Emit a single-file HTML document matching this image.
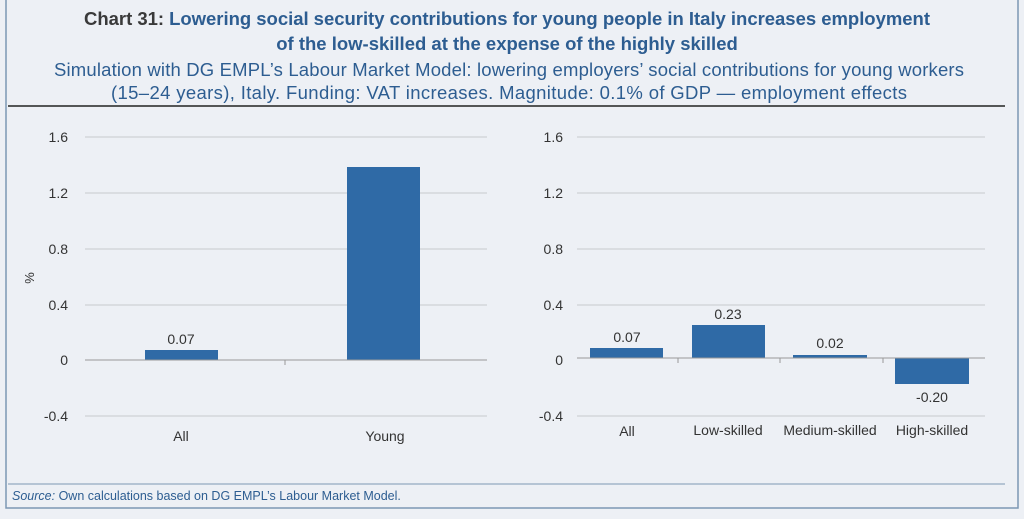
<!DOCTYPE html>
<html><head><style>
body{margin:0;width:1024px;height:514px;background:#edf0f5;overflow:hidden;font-family:"Liberation Sans",sans-serif}
</style></head><body>
<svg width="1024" height="514" viewBox="0 0 1024 514" xmlns="http://www.w3.org/2000/svg" font-family="Liberation Sans, DejaVu Sans, sans-serif">
<rect x="0" y="0" width="1024" height="514" fill="#edf0f5"/>
<rect x="6" y="-2" width="1012" height="510" fill="none" stroke="#7d97b4" stroke-width="1.5"/>
<text x="507" y="25" text-anchor="middle" font-size="18.5" font-weight="bold" fill="#2d5d91" textLength="846"><tspan fill="#3a3a3a">Chart 31</tspan><tspan fill="#3a3a3a">: </tspan>Lowering social security contributions for young people in Italy increases employment</text>
<text x="507" y="50" text-anchor="middle" font-size="18.5" font-weight="bold" fill="#2d5d91">of the low-skilled at the expense of the highly skilled</text>
<text x="509" y="76" text-anchor="middle" font-size="18.5" fill="#2d5d91" textLength="910">Simulation with DG EMPL’s Labour Market Model: lowering employers’ social contributions for young workers</text>
<text x="509" y="99" text-anchor="middle" font-size="18.5" fill="#2d5d91" textLength="796">(15–24 years), Italy. Funding: VAT increases. Magnitude: 0.1% of GDP — employment effects</text>
<line x1="8" y1="106" x2="1005" y2="106" stroke="#222" stroke-width="1.5"/>
<g stroke="#c8cacd" stroke-width="1">
<line x1="85" y1="137" x2="487" y2="137"/><line x1="85" y1="193" x2="487" y2="193"/><line x1="85" y1="249" x2="487" y2="249"/><line x1="85" y1="305" x2="487" y2="305"/><line x1="85" y1="416" x2="487" y2="416"/>
<line x1="577" y1="137" x2="985" y2="137"/><line x1="577" y1="193" x2="985" y2="193"/><line x1="577" y1="249" x2="985" y2="249"/><line x1="577" y1="305" x2="985" y2="305"/><line x1="577" y1="416" x2="985" y2="416"/>
</g>
<g font-size="14" fill="#333" text-anchor="end">
<text x="68" y="142">1.6</text><text x="68" y="198">1.2</text><text x="68" y="254">0.8</text><text x="68" y="310">0.4</text><text x="68" y="365">0</text><text x="68" y="421">-0.4</text>
<text x="563" y="142">1.6</text><text x="563" y="198">1.2</text><text x="563" y="254">0.8</text><text x="563" y="310">0.4</text><text x="563" y="365">0</text><text x="563" y="421">-0.4</text>
</g>
<text x="34" y="278" font-size="13" fill="#333" transform="rotate(-90 34 278)" text-anchor="middle">%</text>
<g fill="#2f6aa6">
<rect x="145" y="350" width="73" height="10"/><rect x="347" y="167" width="73" height="193"/>
<rect x="590" y="348" width="73" height="10"/><rect x="692" y="325" width="73" height="33"/><rect x="793" y="355" width="74" height="3"/><rect x="895" y="358" width="74" height="26"/>
</g>
<g stroke="#999" stroke-width="1">
<line x1="85" y1="360" x2="487" y2="360"/><line x1="285" y1="360" x2="285" y2="365"/>
<line x1="577" y1="358" x2="985" y2="358"/><line x1="678" y1="358" x2="678" y2="363"/><line x1="780" y1="358" x2="780" y2="363"/><line x1="883" y1="358" x2="883" y2="363"/>
</g>
<g font-size="14" fill="#333" text-anchor="middle">
<text x="181" y="344">0.07</text>
<text x="627" y="342">0.07</text><text x="728" y="319">0.23</text><text x="830" y="348">0.02</text><text x="932" y="402">-0.20</text>
<text x="181" y="441">All</text><text x="385" y="441">Young</text>
<text x="627" y="436">All</text><text x="728" y="435">Low-skilled</text><text x="830" y="435">Medium-skilled</text><text x="932" y="435">High-skilled</text>
</g>
<line x1="8" y1="484" x2="1005" y2="484" stroke="#7d97b4" stroke-width="1"/>
<text x="12" y="500" font-size="12.5" fill="#2d5d91"><tspan font-style="italic">Source:</tspan> Own calculations based on DG EMPL’s Labour Market Model.</text>
</svg>
</body></html>
